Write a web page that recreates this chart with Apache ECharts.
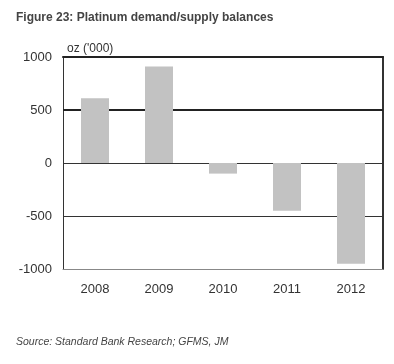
<!DOCTYPE html>
<html><head><meta charset="utf-8">
<script src="https://cdn.jsdelivr.net/npm/echarts@6/dist/echarts.min.js"></script>
<style>html,body{margin:0;padding:0;background:#fff}#c{width:394px;height:364px}</style>
</head><body><div id="c"></div>
<script>
const categories = ['2008', '2009', '2010', '2011', '2012'];
const balances = [610, 910, -100, -450, -950];
const yTicks = [-1000, -500, 0, 500, 1000];
const heavyLines = [500];
const lightLines = [0, -500];

const chart = echarts.init(document.getElementById('c'), null, {renderer: 'canvas'});
chart.setOption({
  animation: false,
  backgroundColor: '#fff',
  title: [
    {text: 'Figure 23: Platinum demand/supply balances', left: 11, top: 7,
     textStyle: {fontFamily: 'Liberation Sans', fontSize: 12, fontWeight: 'bold', color: '#444'}},
    {text: "oz ('000)", left: 62, top: 38,
     textStyle: {fontFamily: 'Liberation Sans', fontSize: 12, fontWeight: 'normal', color: '#333'}},
    {text: 'Source: Standard Bank Research; GFMS, JM', left: 11, top: 332,
     textStyle: {fontFamily: 'Liberation Sans', fontSize: 10.5, fontStyle: 'italic', fontWeight: 'normal', color: '#444'}}
  ],
  grid: {left: 63, right: 11, top: 57, bottom: 95, show: false},
  xAxis: [{
    type: 'category', data: categories,
    axisLine: {show: true, onZero: false, lineStyle: {color: '#888', width: 1}}, axisTick: {show: false},
    axisLabel: {fontFamily: 'Liberation Sans', fontSize: 13, color: '#333', margin: 14}
  }, {
    type: 'category', data: categories, position: 'top',
    axisLine: {show: true, onZero: false, lineStyle: {color: '#222', width: 2}}, axisTick: {show: false},
    axisLabel: {show: false}
  }],
  yAxis: [{
    type: 'value', min: -1000, max: 1000, interval: 500,
    axisLine: {show: true, lineStyle: {color: '#333', width: 1}},
    axisTick: {show: false},
    splitLine: {show: false},
    axisLabel: {fontFamily: 'Liberation Sans', fontSize: 13, color: '#333', margin: 11,
      formatter: v => yTicks.includes(v) ? String(v) : ''}
  }, {
    type: 'value', min: -1000, max: 1000, interval: 500, position: 'right',
    axisLine: {show: true, lineStyle: {color: '#333', width: 2}},
    axisTick: {show: false}, axisLabel: {show: false}, splitLine: {show: false}
  }],
  series: [{
    type: 'line', data: [], z: 1, silent: true,
    markLine: {
      symbol: 'none', silent: true, label: {show: false},
      data: [
        ...heavyLines.map(v => ({yAxis: v, lineStyle: {color: '#222', width: 2, type: 'solid'}})),
        ...lightLines.map(v => ({yAxis: v, lineStyle: {color: '#333', width: 1, type: 'solid'}}))
      ]
    }
  }, {
    type: 'bar', data: balances, z: 5, barWidth: 28,
    itemStyle: {color: '#c2c2c2'}
  }]
});
</script></body></html>
